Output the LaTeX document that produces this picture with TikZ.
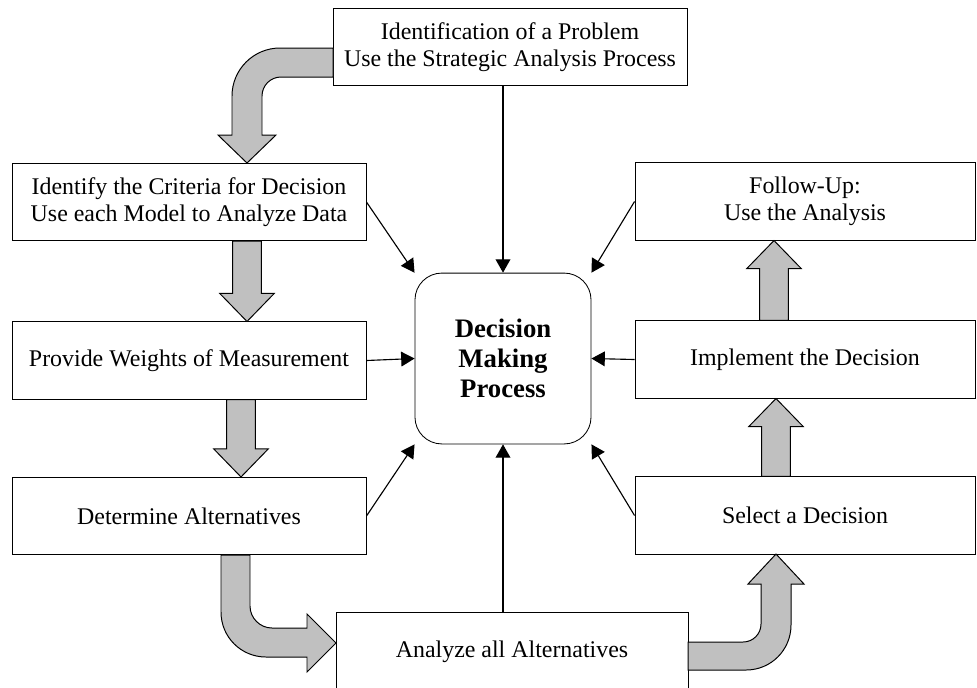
\documentclass[tikz,border=0pt]{standalone}
\usepackage{fontspec}
\setmainfont{Liberation Serif}
\usetikzlibrary{arrows.meta}
\usetikzlibrary{calc}

\definecolor{blockgray}{HTML}{C0C0C0}

\tikzset{
  box/.style={draw, fill=white, line width=0.6pt, align=center, inner sep=0pt,
    minimum height=1.93cm, font=\fontsize{17}{19.5}\selectfont},
  lbox/.style={box, minimum width=8.85cm},
  rbox/.style={box, minimum width=8.5cm},
  hub/.style={draw, fill=white, line width=0.6pt, rounded corners=0.67cm, align=center,
    minimum width=4.4cm, minimum height=4.27cm,
    font=\bfseries\fontsize{19}{21.3}\selectfont},
  conn/.style={line width=0.8pt, -{Triangle[length=9.5pt,width=10.5pt]}},
  blockarrow/.style={draw, fill=blockgray, line width=0.7pt, line join=miter}
}

% vertical block arrow from #1 (tail) to #2 (tip)
\newcommand{\vblock}[2]{%
  \draw[blockarrow] let \p1=(#1), \p2=(#2), \n1={sign(\y2-\y1)} in
    (\x1-0.36cm,\y1) -- (\x1-0.36cm,\y2-\n1*0.7cm) -- (\x1-0.68cm,\y2-\n1*0.7cm)
    -- (\x1,\y2) -- (\x1+0.68cm,\y2-\n1*0.7cm) -- (\x1+0.36cm,\y2-\n1*0.7cm)
    -- (\x1+0.36cm,\y1) -- cycle;}

\begin{document}
\begin{tikzpicture}[x={(0.025cm,0)}, y={(0,-0.025cm)}]
  \useasboundingbox (0,0) rectangle (977,687);

  % centre
  \node[hub] (dmp) at (503,358.5) {Decision\\Making\\Process};

  % left column and top
  \node[lbox] (prob) at (510,47) {Identification of a Problem\\Use the Strategic Analysis Process};
  \node[lbox] (crit) at (189,202) {Identify the Criteria for Decision\\Use each Model to Analyze Data};
  \node[lbox] (weights) at (189,360.5) {Provide Weights of Measurement};
  \node[lbox] (alt) at (189,516) {Determine Alternatives};
  \node[lbox, minimum width=8.8cm, minimum height=2cm] (analyze) at (512,652) {Analyze all Alternatives};

  % right column
  \node[rbox] (select) at (805,515.5) {Select a Decision};
  \node[rbox] (impl) at (805,359.5) {Implement the Decision};
  \node[rbox] (follow) at (805,201.5) {Follow-Up:\\Use the Analysis};

  % lanes of the block arrows
  \coordinate (laneA) at (247,0);
  \coordinate (laneB) at (241,0);
  \coordinate (laneC) at (776,0);
  \coordinate (laneD) at (774,0);

  \vblock{crit.south -| laneA}{weights.north -| laneA}
  \vblock{weights.south -| laneB}{alt.north -| laneB}
  \vblock{select.north -| laneC}{impl.south -| laneC}
  \vblock{impl.north -| laneD}{follow.south -| laneD}

  % curved block arrows
  \draw[blockarrow] (333,48) -- (280,48) .. controls (253.5,48) and (232,69.5) .. (232,96)
    -- (232,135) -- (218,135) -- (247,163) -- (276,135) -- (262,135) -- (262,96)
    .. controls (262,85.5) and (270.5,77) .. (281,77) -- (333,77) -- cycle;
  \draw[blockarrow] (221,555) -- (221,612) .. controls (221,637) and (241,657) .. (266,657)
    -- (307,657) -- (307,672) -- (336,643) -- (307,614) -- (307,628) -- (272,628)
    .. controls (260,628) and (250,618) .. (250,606) -- (250,555) -- cycle;
  \draw[blockarrow] (688,642) -- (743,642) .. controls (753,642) and (761,634) .. (761,624)
    -- (761,584) -- (748,584) -- (776,554) -- (804,584) -- (791,584) -- (791,625)
    .. controls (791,650) and (771,670) .. (746,670) -- (688,670) -- cycle;

  % arrows into the centre
  \draw[conn] (prob.south -| dmp.north) -- (dmp.north);
  \draw[conn] (crit.east) -- (dmp.north west);
  \draw[conn] (follow.west) -- (dmp.north east);
  \draw[conn] (weights.east) -- (dmp.west);
  \draw[conn] (impl.west) -- (dmp.east);
  \draw[conn] (alt.east) -- (dmp.south west);
  \draw[conn] (select.west) -- (dmp.south east);
  \draw[conn] (analyze.north -| dmp.south) -- (dmp.south);
\end{tikzpicture}
\end{document}
